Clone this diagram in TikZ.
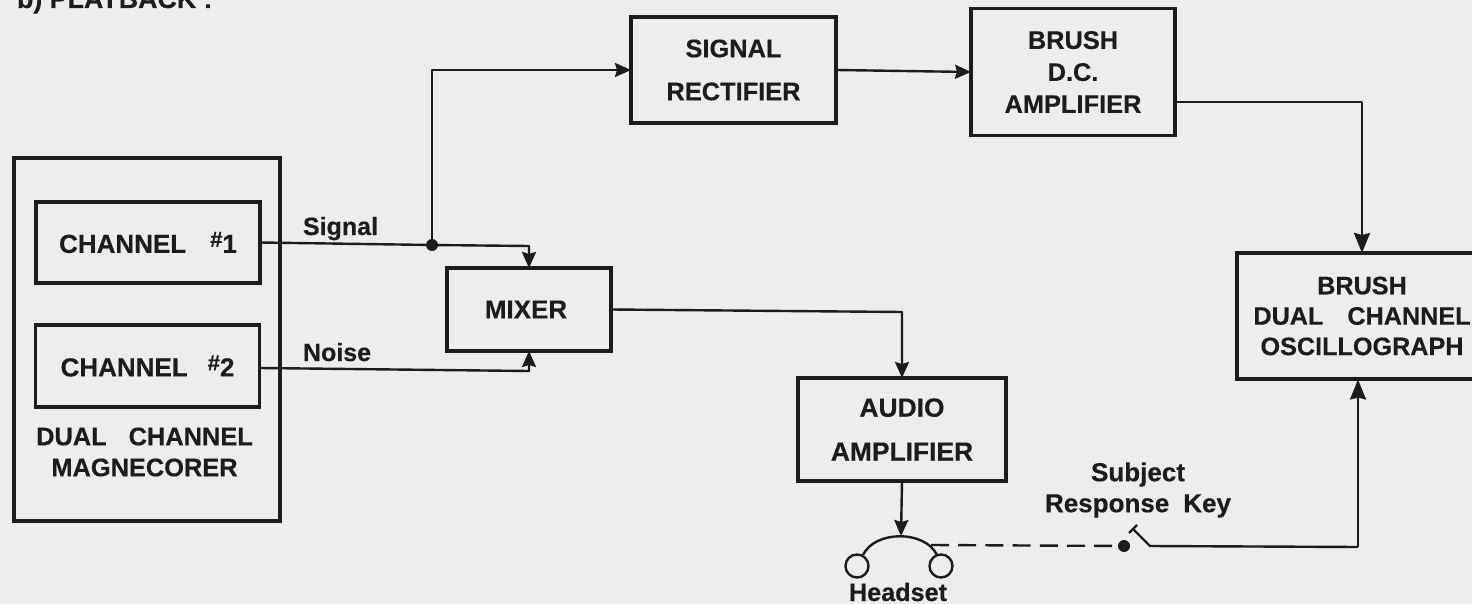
\documentclass[tikz,border=0pt]{standalone}
\usepackage{fontspec}
\setmainfont{Liberation Sans}[BoldFeatures={FakeBold=0.35}]
\usetikzlibrary{arrows.meta,calc}
\definecolor{ink}{HTML}{1C1C1C}
\definecolor{paper}{HTML}{EDEDED}
\newcommand{\lbl}[2]{\fontsize{#1}{#2}\selectfont\bfseries}
\newcommand{\sharpsign}{\raisebox{3pt}{\fontsize{11}{11}\selectfont\bfseries\#}}
\tikzset{
  box/.style={draw=ink,line width=1.75pt,rectangle,inner sep=0pt,outer sep=0pt,align=center,text=ink},
  wire/.style={draw=ink,line width=1.2pt,line join=round},
  flow/.style={wire,-{Stealth[length=8pt,width=7pt,inset=1pt]}},
  bigflow/.style={wire,-{Stealth[length=10pt,width=8pt,inset=1pt]}},
  txt/.style={inner sep=0pt,outer sep=0pt,align=center,text=ink},
  dotmark/.style={circle,fill=ink,inner sep=0pt,minimum size=6pt,outer sep=0pt},
  ear/.style={circle,draw=ink,line width=1.2pt,inner sep=0pt,minimum size=11.5pt,outer sep=0pt}
}
\begin{document}
\begin{tikzpicture}[x=0.5pt,y=-0.5pt]
\useasboundingbox (0,0) rectangle (1472,604);
\clip (0,0) rectangle (1472,604);
\fill[paper] (0,0) rectangle (1472,604);

\node[txt,anchor=base west,font=\lbl{13.4}{15}] (title) at (17,8) {b) PLAYBACK :};

% boxes
\node[box,minimum width=133pt,minimum height=181.5pt] (mag) at (147,339.5) {};
\node[box,minimum width=112pt,minimum height=40.5pt,font=\lbl{13}{15}] (ch1) at (148,242.5) {CHANNEL\hspace{12pt}\sharpsign 1};
\node[box,minimum width=112pt,minimum height=41pt,font=\lbl{13}{15}] (ch2) at (147.5,366) {CHANNEL\hspace{10pt}\sharpsign 2};
\node[txt,font=\lbl{12.7}{15.5}] (magt) at (144.5,452) {DUAL\hspace{11pt}CHANNEL\\MAGNECORER};
\node[box,minimum width=82pt,minimum height=41.5pt,font=\lbl{13}{15}] (mix) at (529,309.5) {\hspace{-3pt}MIXER};
\node[box,minimum width=102.5pt,minimum height=53pt,font=\lbl{12.7}{21.5}] (rect) at (733.5,70) {SIGNAL\\RECTIFIER};
\node[box,minimum width=102pt,minimum height=63.5pt,font=\lbl{12.7}{16}] (dc) at (1073,72) {BRUSH\\D.C.\\AMPLIFIER};
\node[box,minimum width=104pt,minimum height=51.5pt,font=\lbl{13.2}{22}] (aud) at (902,429.5) {AUDIO\\AMPLIFIER};
\node[box,minimum width=125pt,minimum height=63pt,font=\lbl{12.6}{15.2}] (osc) at (1362,316) {BRUSH\\DUAL\hspace{12pt}CHANNEL\\OSCILLOGRAPH};

% labels
\node[txt,anchor=base west,font=\lbl{12.5}{14}] (sig) at (303,235) {Signal};
\node[txt,anchor=base west,font=\lbl{12.5}{14}] (noi) at (303,361) {Noise};
\node[txt,font=\lbl{13}{15.5}] (key) at (1138,490) {Subject\\Response\hspace{7pt}Key};
\node[txt,font=\lbl{12.6}{14}] (hst) at (898,592) {Headset};

% helpers
\node[dotmark] (jn) at (432,245) {};
\node[dotmark] (kd) at (1124,546) {};
\node[ear] (earl) at (857,566) {};
\node[ear] (earr) at (941,566) {};
\coordinate (upc) at (432,70);
\coordinate (sigc) at (529,246);
\coordinate (noic) at (529,371);
\coordinate (audc) at (902,312);
\coordinate (dcout) at (1175,102);
\coordinate (dcc) at (1362,102);
\coordinate (hsl) at (863,555);
\coordinate (hsr) at (937,555);
\coordinate (hstop) at (901,536);
\coordinate (hsd) at (931,545);
\coordinate (pivot) at (1150,546);
\coordinate (blade) at (1133,529);
\coordinate (ta) at (1129,533);
\coordinate (tb) at (1137,525);
\coordinate (corner) at (1358,547);
\coordinate (oscin) at (1358,379.5);

% connectors
\draw[wire] (ch1.east) -- (jn);
\draw[flow] (jn) -- (sigc) -- (mix.north);
\draw[flow] (jn) -- (upc) -- (rect.west);
\draw[flow] (rect.east) -- (dc.west);
\draw[bigflow] (dcout) -- (dcc) -- (osc.north);
\draw[flow] ([yshift=-1pt]ch2.east) -- (noic) -- (mix.south);
\draw[flow] (mix.east) -- (audc) -- (aud.north);
\draw[flow] (aud.south) -- (hstop);
\draw[wire] (hsl) .. controls (875,530) and (925,530) .. (hsr);
\draw[wire,dash pattern=on 9pt off 4.6pt] (hsd) -- (kd);
\draw[wire] (ta) -- (tb);
\draw[wire] (blade) -- (pivot) -- (corner);
\draw[bigflow] (corner) -- (oscin);
\end{tikzpicture}
\end{document}
